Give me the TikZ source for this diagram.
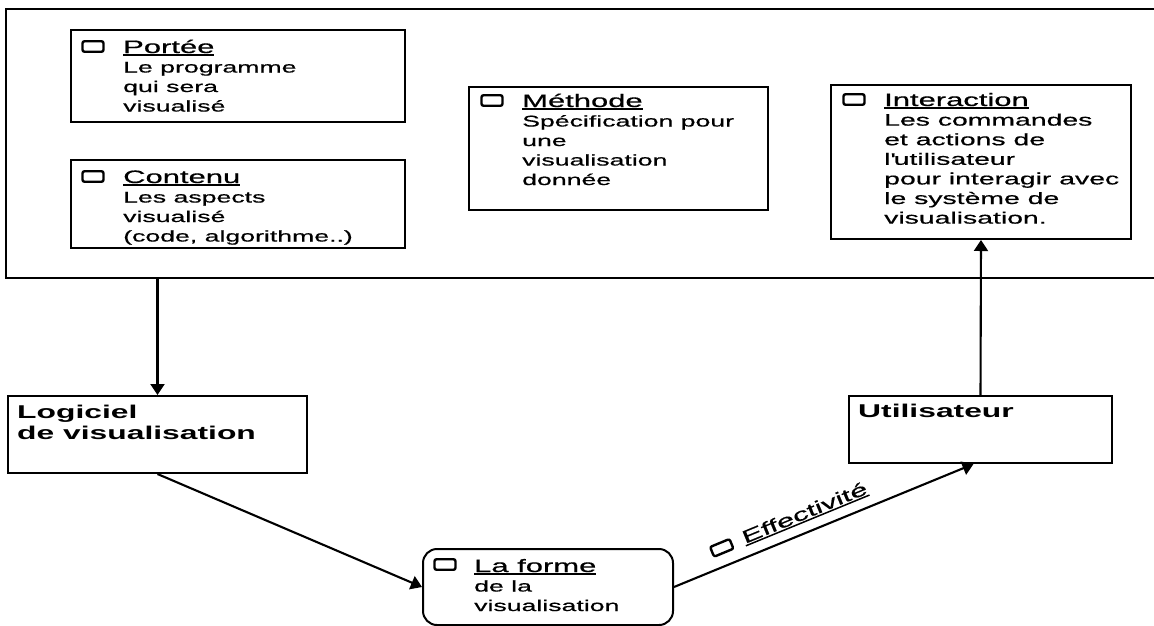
\documentclass[tikz,border=0pt]{standalone}
\usepackage{fontspec}
\setmainfont[FakeStretch=1.72, UprightFeatures={FakeBold=0.6}]{Liberation Sans}
\usetikzlibrary{arrows.meta,calc}

% underlined heading and a block of left-aligned lines
\newcommand\ul[1]{\setbox0\hbox{#1}\rlap{\rule[-2.8pt]{\wd0}{1.5pt}}\box0}
\newcommand\hd[1]{{\fontsize{18}{19.5}\selectfont\ul{#1}}}
\newcommand\lines[1]{\begin{tabular}[t]{@{}l@{}}#1\end{tabular}}

\tikzset{
  panel/.style={draw, line width=2pt, anchor=north west, inner sep=0pt},
  body/.style={anchor=base west, inner sep=0pt, font=\fontsize{15.5}{19.5}\selectfont},
  title/.style={anchor=base west, inner sep=0pt, font=\bfseries\fontsize{18.5}{21.7}\selectfont},
  chk/.style={draw, line width=2.4pt, rounded corners=2pt, inner sep=0pt,
    minimum width=21pt, minimum height=10.5pt},
  arr/.style={line width=2.1pt, -{Triangle[width=14pt,length=11pt]}},
}

\begin{document}
\begin{tikzpicture}[x=1pt, y=-1pt]
\useasboundingbox (0,0) rectangle (1154,625);

% outer frame (runs past the right edge)
\node[panel, minimum width=1200pt, minimum height=269pt] (cadre) at (5,8) {};

% Portée
\node[panel, minimum width=334pt, minimum height=92pt] (porteeBox) at (70,29) {};
\node[body] (porteeTxt) at (123,53) {\lines{\hd{Portée}\\Le programme\\qui sera\\visualisé}};
\node[chk] (porteeChk) at ($(porteeTxt.base west)+(-30,-6.5)$) {};

% Contenu
\node[panel, minimum width=334pt, minimum height=88pt] (contenuBox) at (70,159) {};
\node[body] (contenuTxt) at (123,183) {\lines{\hd{Contenu}\\Les aspects\\visualisé\\(code, algorithme..)}};
\node[chk] (contenuChk) at ($(contenuTxt.base west)+(-30,-6.5)$) {};

% Méthode
\node[panel, minimum width=299pt, minimum height=123pt] (methodeBox) at (468,86) {};
\node[body] (methodeTxt) at (522,107) {\lines{\hd{Méthode}\\Spécification pour\\une\\visualisation\\donnée}};
\node[chk] (methodeChk) at ($(methodeTxt.base west)+(-30,-6.5)$) {};

% Interaction
\node[panel, minimum width=300pt, minimum height=154pt] (interBox) at (830,84) {};
\node[body, font=\fontsize{16.5}{19.6}\selectfont] (interTxt) at (884,106)
  {\lines{\hd{Interaction}\\Les commandes\\et actions de\\l\textquotesingle utilisateur\\pour interagir avec\\le système de\\visualisation.}};
\node[chk] (interChk) at ($(interTxt.base west)+(-30,-6.5)$) {};

% Logiciel de visualisation
\node[panel, minimum width=299pt, minimum height=77pt] (logicielBox) at (7,395) {};
\node[title] (logicielTxt) at (17,418) {\lines{Logiciel\\de visualisation}};

% Utilisateur
\node[panel, minimum width=263pt, minimum height=67pt] (utilBox) at (848,395) {};
\node[title] (utilTxt) at (858,417) {Utilisateur};

% La forme
\node[panel, rounded corners=14pt, minimum width=250pt, minimum height=76pt] (formeBox) at (422,548) {};
\node[body] (formeTxt) at (474,572) {\lines{\hd{La forme}\\de la\\visualisation}};
\node[chk] (formeChk) at ($(formeTxt.base west)+(-29,-7.5)$) {};

% connectors
\draw[arr] (logicielBox.north |- cadre.south) -- (logicielBox.north);
\draw[arr] (logicielBox.south) -- (formeBox.west);
\draw[arr] (formeBox.east) -- node[sloped, pos=0.46, above=9pt, inner sep=0pt,
    font=\fontsize{18}{20}\selectfont] (effLbl) {\ul{Effectivité}}
  ([xshift=-7pt]utilBox.south);
\node[chk, rotate=22.5] (effChk) at ($(effLbl.west)!-22pt!(effLbl.east)$) {};
\draw[arr] (utilBox.north) -- (interBox.south);
\end{tikzpicture}
\end{document}
